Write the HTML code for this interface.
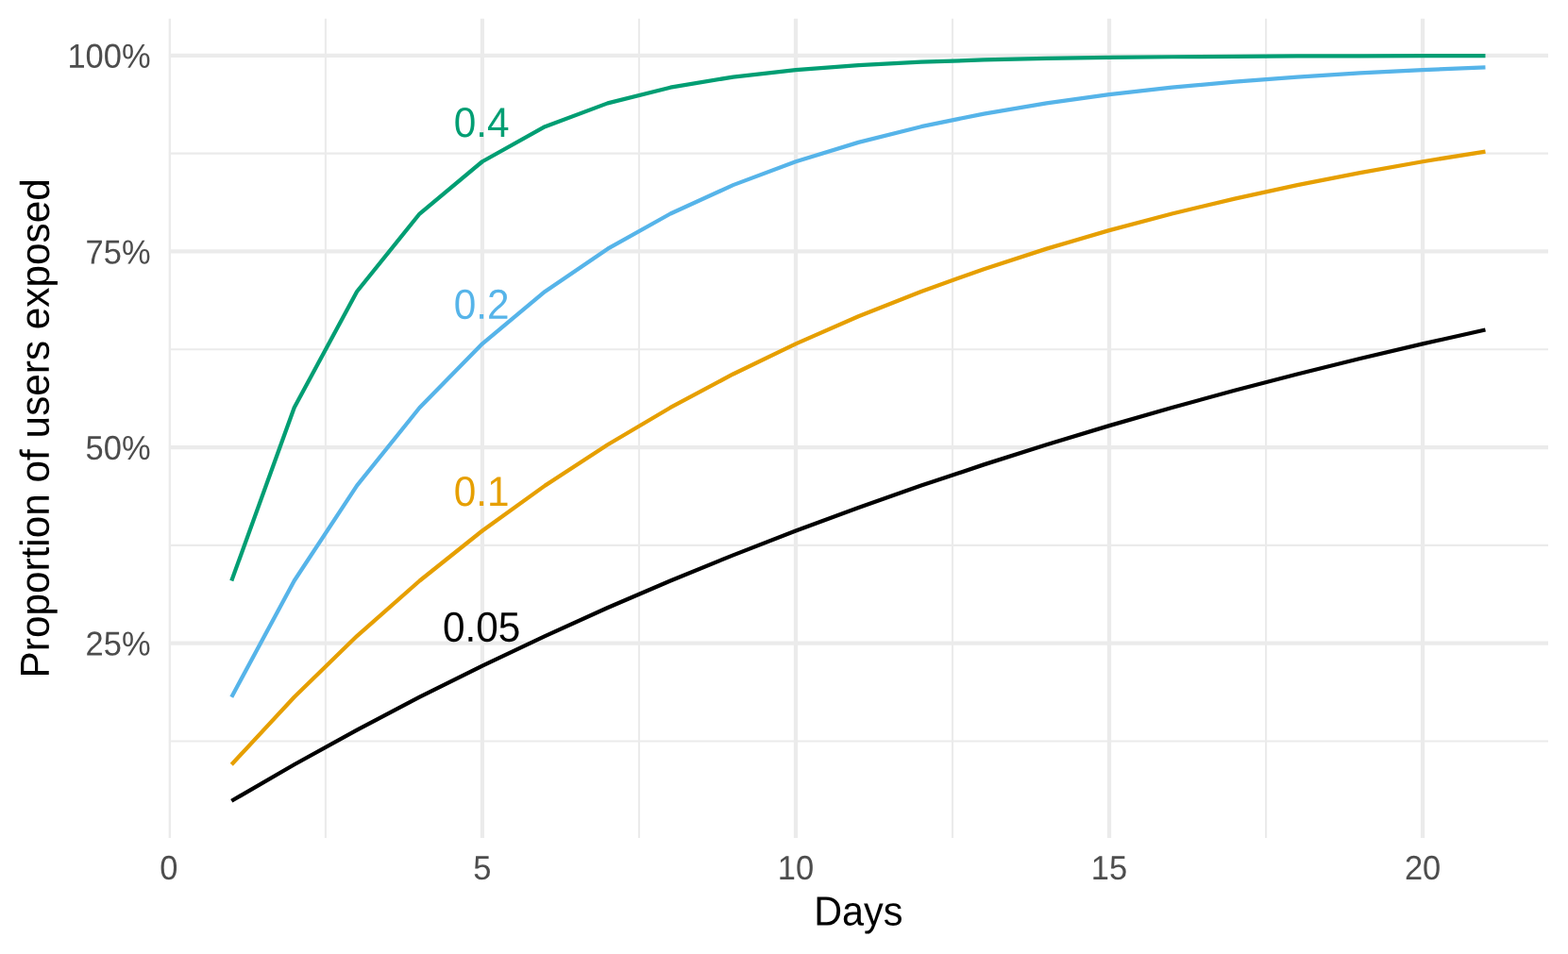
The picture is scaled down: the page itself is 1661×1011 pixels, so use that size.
<!DOCTYPE html>
<html lang="en">
<head>
<meta charset="utf-8">
<title>Proportion of users exposed by day</title>
<style>
html,body{margin:0;padding:0;background:#fff;}
body{width:1661px;height:1011px;overflow:hidden;}
svg{display:block;}
text{font-family:"Liberation Sans",sans-serif;}
.tick{font-size:36.1px;fill:#4D4D4D;}
.title{font-size:43.5px;fill:#000;}
.ytitle{font-size:43.2px;}
.lab{font-size:44.5px;}
</style>
</head>
<body>
<svg width="1661" height="1011" viewBox="0 0 1661 1011">
<rect x="0" y="0" width="1661" height="1011" fill="#ffffff"/>
<defs><clipPath id="panel"><rect x="178.65" y="19.45" width="1461.35" height="868.9"/></clipPath></defs>
<g clip-path="url(#panel)" fill="none" stroke="#EBEBEB">
<g stroke-width="2.12">
<line x1="178.65" x2="1640" y1="785.47" y2="785.47"/>
<line x1="178.65" x2="1640" y1="577.87" y2="577.87"/>
<line x1="178.65" x2="1640" y1="370.27" y2="370.27"/>
<line x1="178.65" x2="1640" y1="162.67" y2="162.67"/>
<line x1="344.89" x2="344.89" y1="19.45" y2="888.35"/>
<line x1="676.94" x2="676.94" y1="19.45" y2="888.35"/>
<line x1="1009" x2="1009" y1="19.45" y2="888.35"/>
<line x1="1341.05" x2="1341.05" y1="19.45" y2="888.35"/>
</g>
<g stroke-width="4.25">
<line x1="178.65" x2="1640" y1="681.67" y2="681.67"/>
<line x1="178.65" x2="1640" y1="474.07" y2="474.07"/>
<line x1="178.65" x2="1640" y1="266.47" y2="266.47"/>
<line x1="178.65" x2="1640" y1="58.87" y2="58.87"/>
<line x1="178.87" x2="178.87" y1="19.45" y2="888.35"/>
<line x1="510.92" x2="510.92" y1="19.45" y2="888.35"/>
<line x1="842.97" x2="842.97" y1="19.45" y2="888.35"/>
<line x1="1175.02" x2="1175.02" y1="19.45" y2="888.35"/>
<line x1="1507.07" x2="1507.07" y1="19.45" y2="888.35"/>
</g>
</g>
<g fill="none" stroke-width="4.25" stroke-linejoin="round" stroke-linecap="butt">
<polyline stroke="#000000" points="245.28,848.77 311.69,810.25 378.1,773.6 444.51,738.74 510.92,705.59 577.33,674.05 643.74,644.04 710.15,615.5 776.56,588.36 842.97,562.53 909.38,537.97 975.79,514.6 1042.2,492.38 1108.61,471.23 1175.02,451.12 1241.43,431.99 1307.84,413.8 1374.25,396.49 1440.66,380.02 1507.07,364.36 1573.48,349.46"/>
<polyline stroke="#E69F00" points="245.28,810.25 311.69,738.74 378.1,674.05 444.51,615.5 510.92,562.53 577.33,514.6 643.74,471.23 710.15,431.99 776.56,396.49 842.97,364.36 909.38,335.29 975.79,308.98 1042.2,285.18 1108.61,263.64 1175.02,244.16 1241.43,226.52 1307.84,210.57 1374.25,196.13 1440.66,183.07 1507.07,171.25 1573.48,160.56"/>
<polyline stroke="#56B4E9" points="245.28,738.74 311.69,615.5 378.1,514.6 444.51,431.99 510.92,364.36 577.33,308.98 643.74,263.64 710.15,226.52 776.56,196.13 842.97,171.25 909.38,150.88 975.79,134.2 1042.2,120.55 1108.61,109.37 1175.02,100.21 1241.43,92.72 1307.84,86.58 1374.25,81.56 1440.66,77.45 1507.07,74.08 1573.48,71.32"/>
<polyline stroke="#009E73" points="245.28,615.5 311.69,431.99 378.1,308.98 444.51,226.52 510.92,171.25 577.33,134.2 643.74,109.37 710.15,92.72 776.56,81.56 842.97,74.08 909.38,69.07 975.79,65.7 1042.2,63.45 1108.61,61.94 1175.02,60.93 1241.43,60.25 1307.84,59.79 1374.25,59.49 1440.66,59.29 1507.07,59.15 1573.48,59.06"/>
</g>
<g class="lab" text-anchor="middle">
<text transform="translate(510.1 144.9) matrix(0.9514 0.0005 0 1 0 0)" fill="#009E73">0.4</text>
<text transform="translate(510.1 337.85) matrix(0.9514 0.0005 0 1 0 0)" fill="#56B4E9">0.2</text>
<text transform="translate(510.1 535.95) matrix(0.9514 0.0005 0 1 0 0)" fill="#E69F00">0.1</text>
<text transform="translate(510.1 679.7) matrix(0.9514 0.0005 0 1 0 0)" fill="#000000">0.05</text>
</g>
<g class="tick" text-anchor="end">
<text transform="translate(159.6 71.82) matrix(0.9554 0.0005 0 1 0 0)">100%</text>
<text transform="translate(159.6 279.42) matrix(0.9554 0.0005 0 1 0 0)">75%</text>
<text transform="translate(159.6 487.02) matrix(0.9554 0.0005 0 1 0 0)">50%</text>
<text transform="translate(159.6 694.62) matrix(0.9554 0.0005 0 1 0 0)">25%</text>
</g>
<g class="tick" text-anchor="middle">
<text transform="translate(178.87 932.05) matrix(0.9554 0.0005 0 1 0 0)">0</text>
<text transform="translate(510.92 932.05) matrix(0.9554 0.0005 0 1 0 0)">5</text>
<text transform="translate(842.97 932.05) matrix(0.9554 0.0005 0 1 0 0)">10</text>
<text transform="translate(1175.02 932.05) matrix(0.9554 0.0005 0 1 0 0)">15</text>
<text transform="translate(1507.07 932.05) matrix(0.9554 0.0005 0 1 0 0)">20</text>
</g>
<text class="title" text-anchor="middle" transform="translate(909.3 980.5) matrix(0.9507 0.0005 0 1 0 0)">Days</text>
<text class="title ytitle" text-anchor="middle" transform="translate(51.8 453.8) rotate(-90) matrix(0.9798 0.0005 0 1 0 0)">Proportion of users exposed</text>
</svg>
</body>
</html>
